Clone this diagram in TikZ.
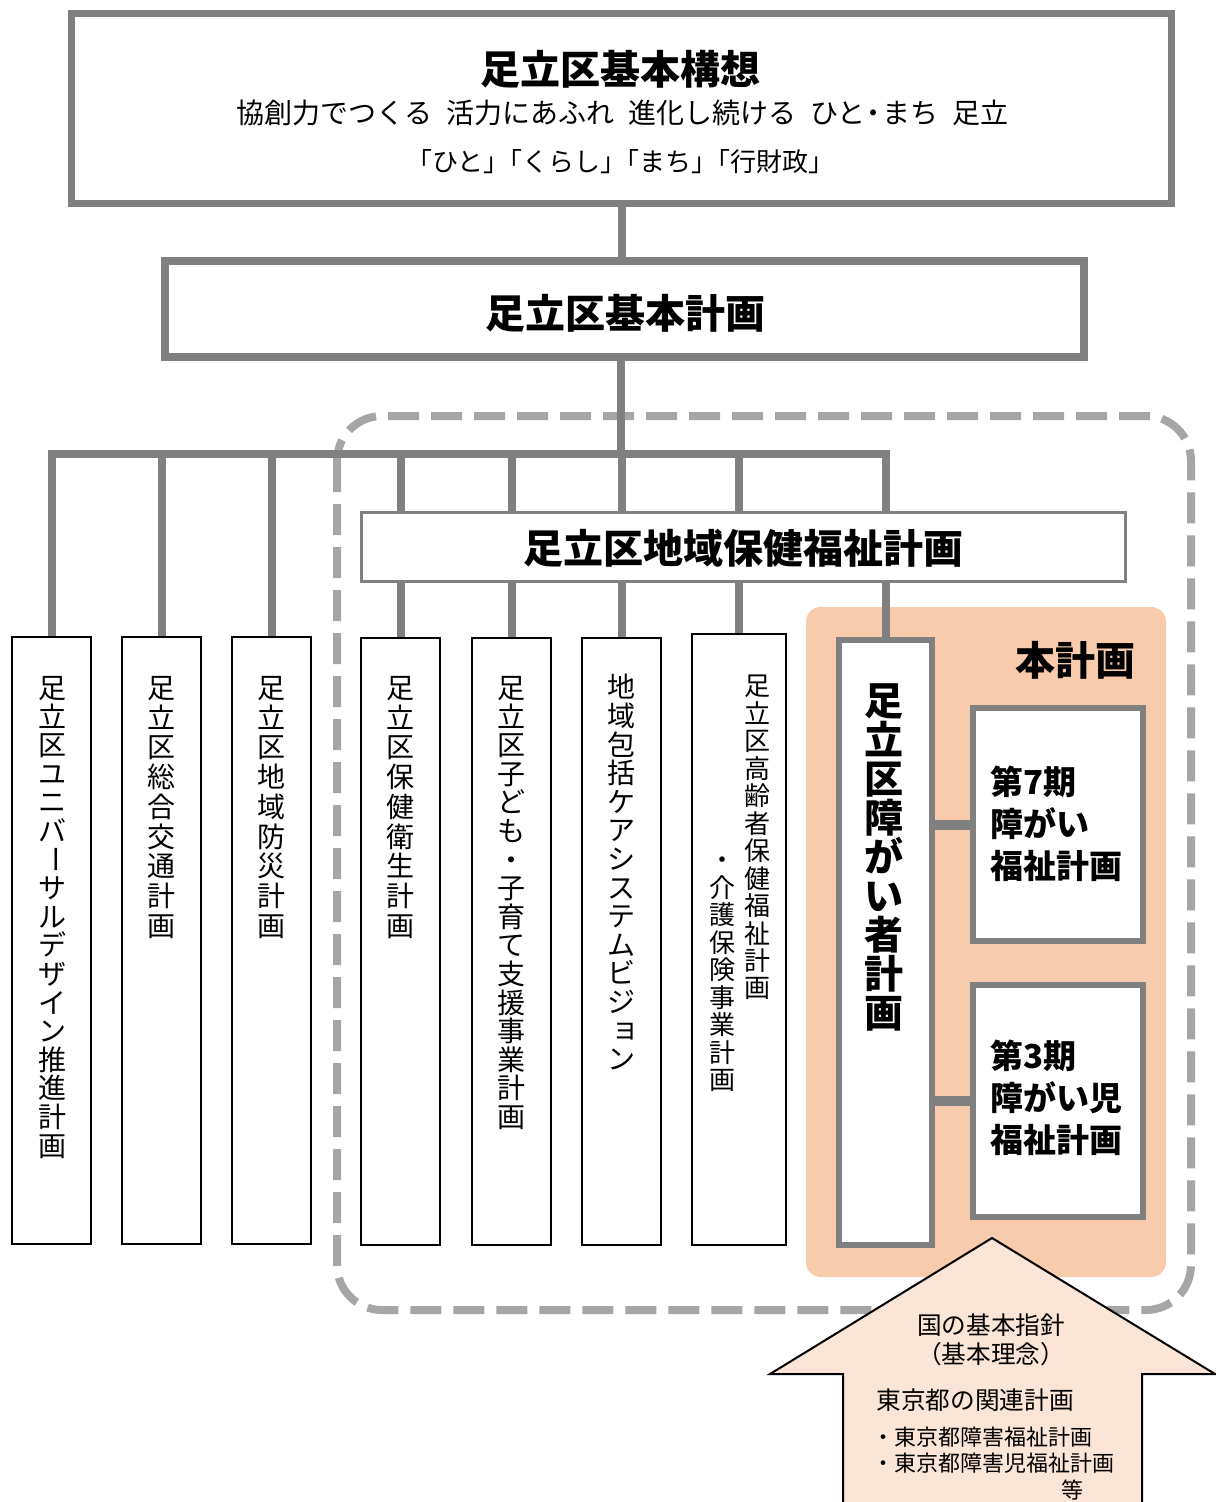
\documentclass[tikz,border=0pt]{standalone}
\usepackage{fontspec}
\setmainfont{Noto Sans CJK JP}
\usepackage{graphicx}
\definecolor{lineg}{HTML}{808080}
\definecolor{dashg}{HTML}{A6A6A6}
\definecolor{peach}{HTML}{F8CBAD}
\definecolor{lpeach}{HTML}{FBE5D6}
\pgfdeclarelayer{back}
\pgfdeclarelayer{background}
\pgfsetlayers{back,background,main}
\tikzset{
  conn/.style={draw=lineg, line width=6pt},
  gbox/.style={draw=lineg, fill=white, rectangle, inner sep=0},
  colbox/.style={draw=black, line width=1.5pt, fill=white, inner sep=0,
    minimum width=59.25pt, minimum height=455.25pt},
  vt/.style={align=center, inner sep=0, anchor=north},
  coltext/.style={vt, font=\fontsize{21pt}{21.45pt}\selectfont},
  coltextw/.style={vt, font=\fontsize{21pt}{22.3pt}\selectfont},
  c7text/.style={vt, font=\fontsize{19.5pt}{20.6pt}\selectfont},
  bigtitle/.style={inner sep=0, font=\bfseries\fontsize{30pt}{31pt}\selectfont},
  innertext/.style={inner sep=0, align=left, anchor=west,
    font=\bfseries\fontsize{24.75pt}{31.5pt}\selectfont},
  arrtext/.style={inner sep=0, font=\fontsize{18.5pt}{19pt}\selectfont},
  arrsmall/.style={inner sep=0, anchor=west, font=\fontsize{16.5pt}{17pt}\selectfont},
}
\newcommand\vbar{\raisebox{0.17em}{\rotatebox[origin=c]{-90}{ー}}}
\newcommand\vsmall[1]{\makebox[0pt]{\hspace{0.3em}\raisebox{0.1em}{#1}}}
\begin{document}
\begin{tikzpicture}[x=0.75pt,y=-0.75pt]
\useasboundingbox (0,0) rectangle (1216,1502);

% ---- boxes ----
\node[gbox, line width=5.25pt, minimum width=825pt, minimum height=142.5pt] (kousou) at (621.5,108.5) {};
\node[bigtitle] (t1) at (620.5,69) {足立区基本構想};
\node[inner sep=0, font=\fontsize{21pt}{22pt}\selectfont] (t2) at (622.5,113)
  {協創力でつくる\hspace{0.5em}活力にあふれ\hspace{0.5em}進化し続ける\hspace{0.5em}ひと\kern-.2em・\kern-.2emまち\hspace{0.5em}足立};
\node[inner sep=0, font=\fontsize{19.5pt}{20pt}\selectfont] (t3) at (620.5,162)
  {「ひと」\kern-.5em「くらし」\kern-.5em「まち」\kern-.5em「行財政」};

\node[gbox, line width=5.6pt, minimum width=689.25pt, minimum height=72pt] (keikaku) at (624.5,309) {};
\node[bigtitle] (t4) at (625,313) {足立区基本計画};

\node[gbox, line width=2.25pt, minimum width=573pt, minimum height=51.75pt] (chiiki) at (743.5,547) {};
\node[bigtitle] (t5) at (743.5,548) {足立区地域保健福祉計画};

\node[colbox] (c1) at (51.5,940.5) {};
\node[colbox] (c2) at (161.5,940.5) {};
\node[colbox] (c3) at (271.5,940.5) {};
\node[colbox] (c4) at (400.5,941) {};
\node[colbox] (c5) at (511.5,941) {};
\node[colbox] (c6) at (621.5,941) {};
\node[colbox, minimum width=70.5pt, minimum height=458.25pt] (c7) at (739,939.5) {};

\node[coltext] (c1t) at (52,676) {足\\立\\区\\ユ\\ニ\\バ\\\vbar\\サ\\ル\\デ\\ザ\\イ\\ン\\推\\進\\計\\画};
\node[coltextw] (c2t) at (161.5,676) {足\\立\\区\\総\\合\\交\\通\\計\\画};
\node[coltextw] (c3t) at (271.5,676) {足\\立\\区\\地\\域\\防\\災\\計\\画};
\node[coltextw] (c4t) at (400.5,676) {足\\立\\区\\保\\健\\衛\\生\\計\\画};
\node[coltext] (c5t) at (511.5,676) {足\\立\\区\\子\\ど\\も\\・\\子\\育\\て\\支\\援\\事\\業\\計\\画};
\node[coltext] (c6t) at (621.5,674) {地\\域\\包\\括\\ケ\\ア\\シ\\ス\\テ\\ム\\ビ\\ジ\\\vsmall{ョ}\\ン};
\node[c7text] (c7r) at (757,675) {足\\立\\区\\高\\齢\\者\\保\\健\\福\\祉\\計\\画};
\node[c7text] (c7l) at (722,857) {・\\介\\護\\保\\険\\事\\業\\計\\画};

\node[gbox, line width=4.5pt, minimum width=69.75pt, minimum height=453.75pt] (shogai) at (885.5,942.5) {};
\node[vt, font=\bfseries\fontsize{29.25pt}{29.25pt}\selectfont] (shogait) at (884,683) {足\\立\\区\\障\\が\\い\\者\\計\\画};

\node[bigtitle] (honkei) at (1075,660) {本計画};
\node[gbox, line width=4.5pt, minimum width=127.5pt, minimum height=174.75pt] (dai7) at (1058,824.5) {};
\node[innertext] (dai7t) at (990,824) {第7期\\障がい\\福祉計画};
\node[gbox, line width=4.5pt, minimum width=127.5pt, minimum height=174pt] (dai3) at (1058,1101) {};
\node[innertext] (dai3t) at (990,1098) {第3期\\障がい児\\福祉計画};

% ---- back layer: dashed frame and peach area ----
\begin{pgfonlayer}{back}
\draw[dashg, line width=6pt, dash pattern=on 23.25pt off 9pt, rounded corners=33.75pt]
  (337,416) rectangle (1191,1310);
\node[fill=peach, rounded corners=11pt, minimum width=270pt, minimum height=502.5pt, inner sep=0] (area) at (986,942) {};
\end{pgfonlayer}

% ---- connectors ----
\begin{pgfonlayer}{background}
\coordinate (bus) at (621,454);
\draw[conn] (kousou.south) -- (keikaku.north -| kousou.south);
\draw[conn] (keikaku.south -| bus) -- (bus);
\draw[conn, line join=miter] (c1.north) |- (bus) -| (shogai.north);
\foreach \n in {c2,c3,c4,c5,c6,c7}
  \draw[conn] (\n.north) -- (\n.north |- bus);
\draw[conn, line width=7.5pt] (shogai.east |- dai7.west) -- (dai7.west);
\draw[conn, line width=7.5pt] (shogai.east |- dai3.west) -- (dai3.west);
\end{pgfonlayer}

% ---- arrow ----
\draw[black, line width=1.5pt, fill=lpeach, line join=miter]
  (992,1238) -- (1215,1374) -- (1142,1374) -- (1142,1530) -- (843,1530) -- (843,1374) -- (770,1374) -- cycle;
\node[arrtext] (a1) at (991,1325) {国の基本指針};
\node[arrtext] (a2) at (991,1354) {（基本理念）};
\node[arrtext] (a3) at (975,1400) {東京都の関連計画};
\node[arrsmall] (a4) at (872,1437) {・東京都障害福祉計画};
\node[arrsmall] (a5) at (872,1463) {・東京都障害児福祉計画};
\node[arrsmall, anchor=center] (a6) at (1072,1490) {等};
\end{tikzpicture}
\end{document}
